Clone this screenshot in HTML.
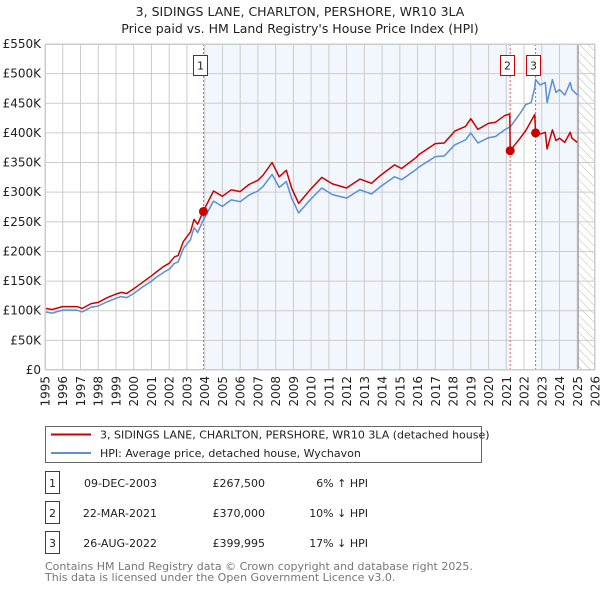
<!DOCTYPE html>
<html><head><meta charset="utf-8">
<style>
body{margin:0;background:#fff;font-family:"DejaVu Sans","Liberation Sans",sans-serif;}
#wrap{position:relative;width:600px;height:590px;overflow:hidden;}
</style></head>
<body>
<div id="wrap">
<svg id="chart" width="600" height="590" xmlns="http://www.w3.org/2000/svg">
<defs>
<pattern id="hatch" width="6" height="6" patternUnits="userSpaceOnUse" patternTransform="rotate(-45)">
<line x1="0" y1="0" x2="0" y2="6" stroke="#bbb" stroke-width="1"/>
</pattern>
</defs>
<text x="300" y="16" text-anchor="middle" font-size="12.5" fill="#222">3, SIDINGS LANE, CHARLTON, PERSHORE, WR10 3LA</text>
<text x="300" y="33" text-anchor="middle" font-size="12.5" fill="#222">Price paid vs. HM Land Registry's House Price Index (HPI)</text>
<g id="plot"></g>
<g>
<rect x="45.5" y="426.5" width="436" height="36" fill="#fff" stroke="#666"/>
<line x1="51" y1="434.5" x2="91" y2="434.5" stroke="#cc0000" stroke-width="2"/>
<text x="100" y="438.5" font-size="11" fill="#222">3, SIDINGS LANE, CHARLTON, PERSHORE, WR10 3LA (detached house)</text>
<line x1="51" y1="453" x2="91" y2="453" stroke="#5b8fd6" stroke-width="2"/>
<text x="100" y="457" font-size="11" fill="#222">HPI: Average price, detached house, Wychavon</text>
</g>
<g id="table" font-size="11" fill="#222"></g>
<text x="45" y="570" font-size="11" fill="#777">Contains HM Land Registry data © Crown copyright and database right 2025.</text>
<text x="45" y="581" font-size="11" fill="#777">This data is licensed under the Open Government Licence v3.0.</text>
</svg>
</div>
<script>
const years=[1995.0,1995.4,1996.0,1996.8,1997.1,1997.6,1998.0,1998.5,1999.0,1999.3,1999.6,2000.0,2000.5,2001.0,2001.3,2001.7,2002.0,2002.3,2002.5,2002.8,2003.2,2003.4,2003.6,2003.93,2004.5,2005.0,2005.5,2006.0,2006.5,2007.0,2007.3,2007.8,2008.2,2008.6,2008.9,2009.3,2009.94,2010.6,2011.2,2012.0,2012.75,2013.4,2013.9,2014.7,2015.1,2015.9,2016.1,2017.0,2017.5,2018.1,2018.7,2019.0,2019.4,2020.0,2020.4,2020.9,2021.2,2021.22,2021.8,2022.1,2022.4,2022.6,2022.65,2022.9,2023.2,2023.3,2023.6,2023.8,2024.0,2024.3,2024.6,2024.7,2025.0];
const hpiValues=[98,96,101,101,98,106,108,115,121,124,122,129,140,150,157,165,170,180,182,205,220,240,232,253,285,276,287,284,295,302,310,330,308,318,290,265,287,307,296,290,304,297,309,326,321,338,343,360,361,380,388,400,383,392,394,405,410,410,434,448,451,476,490,481,485,451,490,468,473,464,485,473,464];
const priceValues=[104,102,107,107,104,112,114,122,128,131,129,137,148,159,166,175,180,191,193,217,233,254,246,268,302,293,304,301,313,320,329,350,326,337,307,281,304,325,314,307,322,315,328,346,340,358,364,382,383,403,411,424,406,416,418,429,432,370,392,404,420,431,400,398,401,373,405,387,391,384,401,391,384];
const yTicks=[0,50,100,150,200,250,300,350,400,450,500,550];
const yTickLabels=["£0","£50K","£100K","£150K","£200K","£250K","£300K","£350K","£400K","£450K","£500K","£550K"];
const xTicks=[1995,1996,1997,1998,1999,2000,2001,2002,2003,2004,2005,2006,2007,2008,2009,2010,2011,2012,2013,2014,2015,2016,2017,2018,2019,2020,2021,2022,2023,2024,2025,2026];
const saleYears=[2003.93,2021.22,2022.65];
const saleValues=[267.5,370,399.995];
const saleLabels=["1","2","3"];
const saleDates=["09-DEC-2003","22-MAR-2021","26-AUG-2022"];
const salePrices=["£267,500","£370,000","£399,995"];
const saleHpi=["6% ↑ HPI","10% ↓ HPI","17% ↓ HPI"];
const dataEnd=2025.05;

const NS="http://www.w3.org/2000/svg";
const L=45,R=595,T=44,B=370;
const xs=y=>L+(y-1995)/31*(R-L);
const ys=v=>B-v/550*(B-T);
function mk(tag,attrs,parent){const e=document.createElementNS(NS,tag);for(const k in attrs)e.setAttribute(k,attrs[k]);parent.appendChild(e);return e;}
const plot=document.getElementById('plot');
let bg=mk('rect',{x:L,y:T,width:R-L,height:B-T,fill:'#fff'},plot);


let s1=mk('rect',{x:xs(saleYears[0]),y:T,width:xs(saleYears[1])-xs(saleYears[0]),height:B-T,fill:'#eef3fc',opacity:0.75},plot);


let s2=mk('rect',{x:xs(saleYears[2]),y:T,width:xs(dataEnd)-xs(saleYears[2]),height:B-T,fill:'#eef3fc',opacity:0.75},plot);


let hz=mk('rect',{x:xs(dataEnd),y:T,width:R-xs(dataEnd),height:B-T,fill:'url(#hatch)'},plot);


yTicks.forEach((v,i)=>{
  let g=mk('line',{x1:L,x2:R,y1:ys(v),y2:ys(v),stroke:'#cccccc','stroke-width':1},plot);
  
  
  let t=mk('text',{x:L-4,y:ys(v)+4,'text-anchor':'end','font-size':12,fill:'#222'},plot);
  t.textContent=yTickLabels[i];
  
  
});
xTicks.forEach(yr=>{
  let g=mk('line',{x1:xs(yr),x2:xs(yr),y1:T,y2:B,stroke:'#cccccc','stroke-width':1},plot);
  
  
  let t=mk('text',{x:0,y:0,'text-anchor':'end','font-size':12,fill:'#222',transform:`translate(${xs(yr)+4.5},${B+6}) rotate(-90)`},plot);
  t.textContent=yr;
  
  
});
let el=mk('line',{x1:xs(dataEnd),x2:xs(dataEnd),y1:T,y2:B,stroke:'#888','stroke-width':1},plot);


saleYears.forEach((sy,i)=>{
  let d=mk('line',{x1:xs(sy),x2:xs(sy),y1:T,y2:B,stroke:'#e06060','stroke-width':1,'stroke-dasharray':'2,2'},plot);
  
  
  const bxX=Math.round(xs(sy)-10)+0.5;
  let bx=mk('rect',{x:bxX,y:55.5,width:14,height:20,fill:'#fff',stroke:'#cc0000'},plot);
  
  
  let t=mk('text',{x:bxX+7,y:69.5,'text-anchor':'middle','font-size':11,fill:'#222'},plot);
  t.textContent=saleLabels[i];
  
  
});
function line(vals,color,name){
  const d=years.map((y,i)=>(i?'L':'M')+xs(y).toFixed(1)+','+ys(vals[i]).toFixed(1)).join('');
  let p=mk('path',{d:d,fill:'none',stroke:color,'stroke-width':1.5,'stroke-linejoin':'round'},plot);
  
  
}
line(hpiValues,'#5b8fd6','hpi-line');
line(priceValues,'#cc0000','price-paid-line');
saleYears.forEach((sy,i)=>{
  let c=mk('circle',{cx:xs(sy),cy:ys(saleValues[i]),r:4.5,fill:'#cc0000'},plot);
  
  
});
let fr=mk('rect',{x:L+0.5,y:T+0.5,width:R-L-1,height:B-T-1,fill:'none',stroke:'#ccc'},plot);


const tbl=document.getElementById('table');
const rowY=[491,521,551];
saleLabels.forEach((lb,i)=>{
  let b=mk('rect',{x:45.5,y:rowY[i]-19.5,width:14,height:22,fill:'#fff',stroke:'#cc0000'},tbl);
  
  
  let t=mk('text',{x:52.5,y:rowY[i]-4,'text-anchor':'middle'},tbl);
  t.textContent=lb;
  
  
  let d=mk('text',{x:157,y:rowY[i]-4,'text-anchor':'end'},tbl);
  d.textContent=saleDates[i];
  
  
  let p=mk('text',{x:265,y:rowY[i]-4,'text-anchor':'end'},tbl);
  p.textContent=salePrices[i];
  
  
  let h=mk('text',{x:368,y:rowY[i]-4,'text-anchor':'end'},tbl);
  h.textContent=saleHpi[i];
  
  
});
</script>
</body></html>
